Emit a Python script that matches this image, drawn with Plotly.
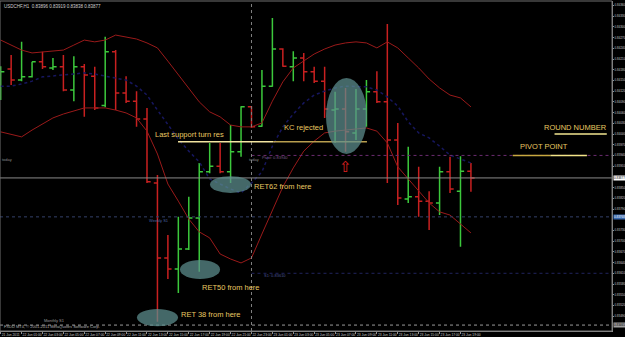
import plotly.graph_objects as go

# ---------------- data ----------------
bar_index = list(range(46))
opens = [0.84109, 0.84182, 0.84151, 0.84160, 0.84202, 0.84185, 0.84188, 0.84123, 0.84188, 0.84162,
         0.84080, 0.84230, 0.84115, 0.84092, 0.84042, 0.83863, 0.83653, 0.83622, 0.83678, 0.83765,
         0.83894, 0.83910, 0.83894, 0.83950, 0.84076, 0.84022, 0.84134, 0.84238, 0.84188, 0.84213,
         0.84174, 0.84148, 0.84067, 0.84070, 0.84003, 0.84070, 0.84118, 0.84090, 0.83983, 0.83818,
         0.83824, 0.83812, 0.83807, 0.83894, 0.83840, 0.83896]
highs = [0.84190, 0.84221, 0.84258, 0.84202, 0.84230, 0.84213, 0.84221, 0.84218, 0.84196, 0.84188,
         0.84272, 0.84235, 0.84162, 0.84120, 0.84073, 0.83885, 0.83717, 0.83768, 0.83824, 0.83919,
         0.83975, 0.83975, 0.84025, 0.84078, 0.84078, 0.84179, 0.84325, 0.84240, 0.84232, 0.84227,
         0.84188, 0.84188, 0.84118, 0.84129, 0.84126, 0.84151, 0.84176, 0.84308, 0.84031, 0.83964,
         0.83908, 0.83840, 0.83908, 0.83936, 0.83938, 0.83919]
lows = [0.84095, 0.84137, 0.84148, 0.84158, 0.84182, 0.84179, 0.84120, 0.84092, 0.84048, 0.84067,
        0.84075, 0.84067, 0.84087, 0.84020, 0.83863, 0.83474, 0.83594, 0.83555, 0.83675, 0.83614,
        0.83890, 0.83890, 0.83863, 0.83936, 0.84017, 0.84020, 0.84132, 0.84188, 0.84148, 0.84148,
        0.84143, 0.84045, 0.83975, 0.83950, 0.83983, 0.84020, 0.84087, 0.83863, 0.83801, 0.83807,
        0.83768, 0.83731, 0.83773, 0.83835, 0.83684, 0.83838]
closes = [0.84174, 0.84151, 0.84160, 0.84202, 0.84188, 0.84188, 0.84123, 0.84188, 0.84165, 0.84073,
          0.84230, 0.84115, 0.84092, 0.84042, 0.83866, 0.83653, 0.83622, 0.83678, 0.83765, 0.83894,
          0.83910, 0.83894, 0.83950, 0.84076, 0.84020, 0.84134, 0.84238, 0.84190, 0.84213, 0.84174,
          0.84148, 0.84070, 0.84070, 0.84006, 0.84070, 0.84118, 0.84090, 0.83983, 0.83821, 0.83824,
          0.83812, 0.83807, 0.83894, 0.83846, 0.83896, 0.83877]

upper_band = [0.84263, 0.84249, 0.84235, 0.84227, 0.84230, 0.84232, 0.84235, 0.84249, 0.84263, 0.84258,
              0.84263, 0.84277, 0.84272, 0.84266, 0.84255, 0.84241, 0.84204, 0.84165, 0.84129, 0.84090,
              0.84062, 0.84048, 0.84025, 0.84020, 0.84020, 0.84031, 0.84092, 0.84146, 0.84185, 0.84204,
              0.84224, 0.84238, 0.84249, 0.84255, 0.84258, 0.84255, 0.84241, 0.84258, 0.84241, 0.84213,
              0.84185, 0.84154, 0.84129, 0.84109, 0.84101, 0.84076]
middle_band = [0.84134, 0.84134, 0.84140, 0.84148, 0.84160, 0.84162, 0.84165, 0.84168, 0.84171, 0.84168,
               0.84162, 0.84157, 0.84151, 0.84134, 0.84109, 0.84067, 0.84028, 0.83986, 0.83952, 0.83922,
               0.83874, 0.83860, 0.83846, 0.83835, 0.83863, 0.83894, 0.83966, 0.84020, 0.84056, 0.84087,
               0.84109, 0.84120, 0.84129, 0.84134, 0.84134, 0.84132, 0.84123, 0.84104, 0.84078, 0.84034,
               0.84003, 0.83989, 0.83966, 0.83941, 0.83930, 0.83919]
lower_band = [0.84006, 0.84000, 0.83992, 0.84011, 0.84028, 0.84045, 0.84056, 0.84064, 0.84073, 0.84073,
              0.84073, 0.84067, 0.84059, 0.84045, 0.84008, 0.83944, 0.83860, 0.83812, 0.83762, 0.83726,
              0.83709, 0.83664, 0.83650, 0.83639, 0.83653, 0.83720, 0.83784, 0.83852, 0.83905, 0.83952,
              0.83980, 0.84003, 0.84008, 0.84011, 0.84014, 0.84017, 0.84008, 0.83975, 0.83908, 0.83874,
              0.83838, 0.83807, 0.83782, 0.83773, 0.83748, 0.83723]

time_tick_index = [0, 2, 4, 6, 8, 10, 12, 14, 16, 18, 20, 22, 24, 26, 28, 30, 32, 34, 36, 38, 40, 42, 44]
time_tick_labels = ["21 Jun 2011", "22 Jun 01:00", "22 Jun 03:00", "22 Jun 05:00", "22 Jun 07:00",
                    "22 Jun 09:00", "22 Jun 11:00", "22 Jun 13:00", "22 Jun 15:00", "22 Jun 17:00",
                    "22 Jun 19:00", "22 Jun 21:00", "22 Jun 23:00", "23 Jun 01:00", "23 Jun 03:00",
                    "23 Jun 05:00", "23 Jun 07:00", "23 Jun 09:00", "23 Jun 11:00", "23 Jun 13:00",
                    "23 Jun 15:00", "23 Jun 17:00", "23 Jun 19:00"]
price_ticks = [0.83490, 0.83520, 0.83550, 0.83580, 0.83610, 0.83640, 0.83670, 0.83700, 0.83730,
               0.83790, 0.83820, 0.83850, 0.83910, 0.83940, 0.83970, 0.84000, 0.84030,
               0.84060, 0.84090, 0.84120, 0.84150, 0.84180, 0.84210, 0.84240, 0.84270, 0.84300, 0.84330,
               0.84360]

round_number = 0.84000
last_support = 0.83978
pivot = 0.83940
bid = 0.83877
weekly_s1 = 0.83768
s1 = 0.83610
monthly_s1 = 0.83465
day_separator = 24
title_text = "USDCHF,H1  0.83896 0.83919 0.83838 0.83877"

# ---------------- figure ----------------
FONT = "Liberation Sans"
GOLD = "#E8C862"
fig = go.Figure()

fig.add_trace(go.Scatter(x=bar_index, y=upper_band, mode="lines",
                         line=dict(color="#9A1A1A", width=1), hoverinfo="skip"))
fig.add_trace(go.Scatter(x=bar_index, y=lower_band, mode="lines",
                         line=dict(color="#9A1A1A", width=1), hoverinfo="skip"))
fig.add_trace(go.Scatter(x=bar_index, y=middle_band, mode="lines",
                         line=dict(color="#16165E", width=1.5, dash="dot"), hoverinfo="skip"))
fig.add_trace(go.Ohlc(x=bar_index, open=opens, high=highs, low=lows, close=closes,
                      increasing=dict(line=dict(color="#3CC83C", width=1.5)),
                      decreasing=dict(line=dict(color="#C82020", width=1.5)),
                      tickwidth=0.35))

shapes = []
shapes.append(dict(type="line", xref="paper", x0=0, x1=1, yref="y", y0=bid, y1=bid,
                   line=dict(color="#8A8A8A", width=1)))
shapes.append(dict(type="line", xref="paper", x0=0, x1=1, yref="y", y0=weekly_s1, y1=weekly_s1,
                   line=dict(color="#34406A", width=1, dash="dot")))
shapes.append(dict(type="line", xref="paper", x0=0, x1=1, yref="y", y0=monthly_s1, y1=monthly_s1,
                   line=dict(color="#9A9A9A", width=1, dash="dot")))
shapes.append(dict(type="line", xref="x", x0=day_separator, x1=60, yref="y", y0=pivot, y1=pivot,
                   line=dict(color="#6A2C70", width=1, dash="dot")))
shapes.append(dict(type="line", xref="x", x0=day_separator, x1=60, yref="y", y0=s1, y1=s1,
                   line=dict(color="#20245E", width=1, dash="dot")))
shapes.append(dict(type="line", xref="x", x0=day_separator, x1=day_separator, yref="paper", y0=0, y1=1,
                   line=dict(color="#808080", width=1, dash="dot")))
shapes.append(dict(type="line", xref="x", x0=16.97, x1=26.06, yref="y", y0=last_support, y1=last_support,
                   line=dict(color="#F2E4A0", width=1.5)))
shapes.append(dict(type="line", xref="x", x0=26.06, x1=35.05, yref="y", y0=last_support, y1=last_support,
                   line=dict(color="#B89E4E", width=1.5)))
shapes.append(dict(type="line", xref="x", x0=53.0, x1=58.0, yref="y", y0=round_number, y1=round_number,
                   line=dict(color="#F2E690", width=1.5)))
shapes.append(dict(type="line", xref="x", x0=49.0, x1=52.6, yref="y", y0=pivot, y1=pivot,
                   line=dict(color="#C8A840", width=1.5)))
shapes.append(dict(type="line", xref="x", x0=52.6, x1=56.1, yref="y", y0=pivot, y1=pivot,
                   line=dict(color="#F2E488", width=1.5)))
for x0, x1, y0, y1 in [(20.03, 23.95, 0.83835, 0.83882),
                       (17.16, 20.99, 0.83594, 0.83647),
                       (13.04, 16.97, 0.83462, 0.83510),
                       (31.13, 35.05, 0.83944, 0.84157)]:
    shapes.append(dict(type="circle", xref="x", yref="y", x0=x0, x1=x1, y0=y0, y1=y1,
                       fillcolor="#5E9090", opacity=0.72, line=dict(width=0), layer="above"))
shapes.append(dict(type="rect", xref="paper", yref="paper", x0=0, x1=1, y0=0, y1=1,
                   line=dict(color="#707070", width=1)))

annotations = []
def note(text, x, y, size=7.5, color=GOLD, xanchor="center"):
    annotations.append(dict(text=text, x=x, y=y, xref="x", yref="y", showarrow=False,
                            xanchor=xanchor, yanchor="middle",
                            font=dict(family=FONT, size=size, color=color)))

note("Last support turn res", 18.02, 0.84000)
note("KC rejected", 29.0, 0.84017)
note("RET62 from here", 27.06, 0.83852)
note("RET50 from here", 22.0, 0.83569)
note("RET 38 from here", 20.03, 0.83496)
note("ROUND NUMBER", 55.05, 0.84017)
note("PIVOT POINT", 52.0, 0.83966)
note("⇧", 33.0, 0.83908, size=15, color="#E02020")
note("today", -0.05, 0.83930, size=4, color="#8A8A8A", xanchor="left")
note("today", 23.6, 0.83930, size=4, color="#8A8A8A", xanchor="left")
note("Pivot: 0.83940", 24.8, 0.83933, size=4, color="#7A5A80", xanchor="left")
note("Weekly S1", 14.0, 0.83759, size=4, color="#4A64A0", xanchor="left")
note("S1: 0.83610", 25.0, 0.83605, size=4, color="#4A5490", xanchor="left")
note("Monthly S1", 3.95, 0.83478, size=4, color="#9A9A9A", xanchor="left")

annotations.append(dict(text=title_text, x=0.003, y=0.997, xref="paper", yref="paper",
                        xanchor="left", yanchor="top", showarrow=False,
                        font=dict(family=FONT, size=4.5, color="#D0D0D0")))
annotations.append(dict(text="FXDD MT4, © 2001-2011 MetaQuotes Software Corp.", x=0.003, y=0.0,
                        xref="paper", yref="paper", xanchor="left", yanchor="bottom", showarrow=False,
                        font=dict(family=FONT, size=4, color="#B0B0B0")))
for val, bg, fg in [(bid, "#FFFFFF", "#000000"), (weekly_s1, "#3A6AB0", "#FFFFFF"),
                    (monthly_s1, "#A0A0A0", "#000000")]:
    annotations.append(dict(text=f"{val:.5f}", x=1, y=val, xref="paper", yref="y", xanchor="left",
                            yanchor="middle", xshift=1, showarrow=False, bgcolor=bg, borderpad=0,
                            font=dict(family=FONT, size=3, color=fg)))

fig.update_layout(
    width=625, height=337,
    margin=dict(l=0, r=13, t=1, b=6, autoexpand=False),
    paper_bgcolor="#000000", plot_bgcolor="#000000",
    showlegend=False,
    shapes=shapes, annotations=annotations,
    xaxis=dict(range=[-0.067, 58.5], tickvals=time_tick_index, ticktext=time_tick_labels,
               tickangle=0, automargin=False,
               ticklabelposition="outside right", tickfont=dict(family=FONT, size=3.3, color="#C8C8C8"),
               showgrid=False, zeroline=False, ticks="outside", ticklen=2, tickcolor="#909090",
               showline=True, linecolor="#909090", rangeslider=dict(visible=False), fixedrange=True),
    yaxis=dict(side="right", range=[0.834484, 0.843724], tickvals=price_ticks, tickformat=".5f",
               automargin=False,
               tickfont=dict(family=FONT, size=3, color="#C8C8C8"), showgrid=False, zeroline=False,
               ticks="outside", ticklen=1, tickcolor="#909090", showline=True, linecolor="#909090",
               fixedrange=True),
)

fig.write_html("out.html")
